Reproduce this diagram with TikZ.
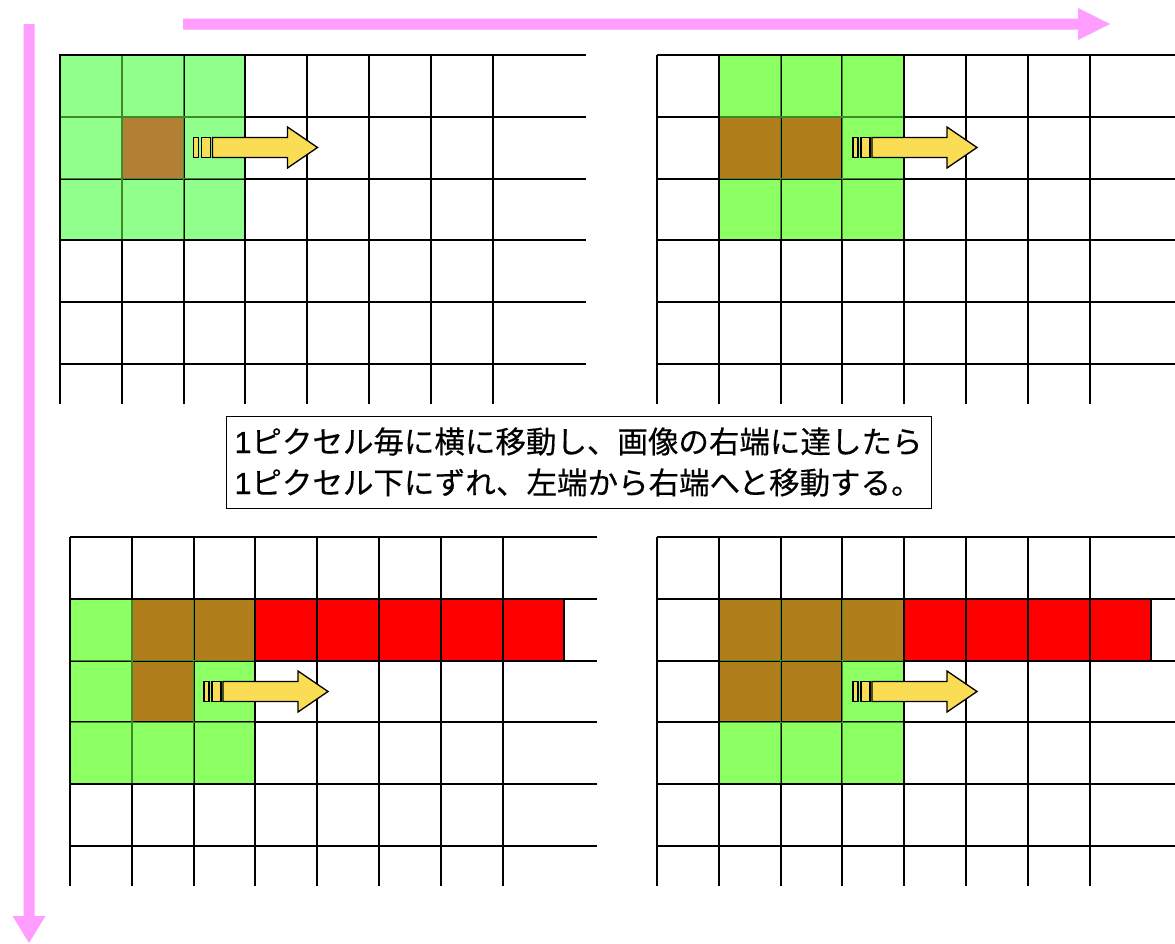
\documentclass[tikz,border=0pt]{standalone}
\usepackage{fontspec}
\newfontfamily\jpfont[FakeBold=0.4]{Noto Sans CJK JP}
\newfontfamily\latsans[FakeBold=0.4]{Liberation Sans}
\definecolor{pinkarr}{RGB}{255,158,255}
\definecolor{greenA}{RGB}{144,255,140}
\definecolor{brownA}{RGB}{178,128,52}
\definecolor{greenB}{RGB}{140,255,98}
\definecolor{brownB}{RGB}{176,126,26}
\definecolor{cellred}{RGB}{255,0,0}
\definecolor{innergreen}{RGB}{62,140,40}
\definecolor{arrowyellow}{RGB}{250,221,85}
\tikzset{
  gridline/.style={line width=2pt,black},
  innerline/.style={line width=1.6pt,innergreen},
  yarr/.style={draw=black,line width=1.3pt,fill=arrowyellow,line join=miter},
  pinkfill/.style={fill=pinkarr},
  msgbox/.style={draw=black,line width=1pt,fill=white,align=left,inner sep=0pt,
    minimum width=705pt,minimum height=92pt,font=\jpfont\fontsize{30.5}{41}\selectfont}
}
\newcommand\pcell[5]{\fill[#1] ({#2+#4*61.8},{#3+#5*61.8}) rectangle ++(61.8,61.8);}
\newcommand\pgrid[3]{%
  \foreach \i in {0,...,7}{\draw[gridline] ({#1+\i*61.8},#2) -- ({#1+\i*61.8},{#2+349});}
  \foreach \j in {0,...,5}{\draw[gridline] (#1,{#2+\j*61.8}) -- (#3,{#2+\j*61.8});}
}
\newcommand\pinner[4]{%
  \foreach \k in {1,2}{
    \draw[innerline] ({#1+(#3+\k)*61.8},{#2+#4*61.8}) -- ++(0,{3*61.8});
    \draw[innerline] ({#1+#3*61.8},{#2+(#4+\k)*61.8}) -- ++({3*61.8},0);
  }
  \draw[gridline] ({#1+#3*61.8},{#2+#4*61.8}) rectangle ++({3*61.8},{3*61.8});
}
\newcommand\yarrow[2]{%
  \draw[yarr] ({#1},{#2-10}) rectangle ({#1+5},{#2+10});
  \draw[yarr] ({#1+8},{#2-10}) rectangle ({#1+17},{#2+10});
  \draw[yarr] ({#1+19},{#2-10}) -- ({#1+94},{#2-10}) -- ({#1+94},{#2-20.5}) -- ({#1+124},{#2})
     -- ({#1+94},{#2+20.5}) -- ({#1+94},{#2+10}) -- ({#1+19},{#2+10}) -- cycle;
}
\begin{document}
\begin{tikzpicture}[x=1pt,y=-1pt]
\useasboundingbox (0,0) rectangle (1175,943);
\fill[white] (0,0) rectangle (1175,943);
% ---------- top-left panel
\foreach \c/\r in {0/0,1/0,2/0,0/1,2/1,0/2,1/2,2/2}{\pcell{greenA}{60}{55}{\c}{\r}}
\pcell{brownA}{60}{55}{1}{1}
\pgrid{60}{55}{586}
\pinner{60}{55}{0}{0}
% ---------- top-right panel
\foreach \c/\r in {1/0,2/0,3/0,3/1,1/2,2/2,3/2}{\pcell{greenB}{657}{55}{\c}{\r}}
\foreach \c/\r in {1/1,2/1}{\pcell{brownB}{657}{55}{\c}{\r}}
\pgrid{657}{55}{1175}
\pinner{657}{55}{1}{0}
% ---------- bottom-left panel
\foreach \c/\r in {0/1,0/2,2/2,0/3,1/3,2/3}{\pcell{greenB}{70}{537}{\c}{\r}}
\foreach \c/\r in {1/1,2/1,1/2}{\pcell{brownB}{70}{537}{\c}{\r}}
\foreach \c in {3,...,7}{\pcell{cellred}{70}{537}{\c}{1}}
\pgrid{70}{537}{597}
\pinner{70}{537}{0}{1}
\draw[gridline] ({70+8*61.8},{537+61.8}) -- ++(0,61.8);
% ---------- bottom-right panel
\foreach \c/\r in {3/2,1/3,2/3,3/3}{\pcell{greenB}{657}{537}{\c}{\r}}
\foreach \c/\r in {1/1,2/1,3/1,1/2,2/2}{\pcell{brownB}{657}{537}{\c}{\r}}
\foreach \c in {4,...,7}{\pcell{cellred}{657}{537}{\c}{1}}
\pgrid{657}{537}{1175}
\pinner{657}{537}{1}{1}
\draw[gridline] ({657+8*61.8},{537+61.8}) -- ++(0,61.8);
% ---------- yellow arrows
\yarrow{193.5}{147.5}
\yarrow{853}{147.5}
\yarrow{204}{691.5}
\yarrow{853}{691.5}
% ---------- pink direction arrows
\coordinate (hstart) at (183,24);
\coordinate (hend) at (1110,24);
\coordinate (vstart) at (29,24);
\coordinate (vend) at (29,943);
\fill[pinkfill] (183,18.5) -- (1078,18.5) -- (1078,8) -- (hend) -- (1078,40) -- (1078,29.5) -- (183,29.5) -- cycle;
\fill[pinkfill] (23.5,24) -- (23.5,916) -- (12.5,916) -- (vend) -- (45.5,916) -- (34.5,916) -- (34.5,24) -- cycle;
% ---------- message
\node[msgbox] (msg) at (578.5,462) {{\latsans 1}ピクセル毎に横に移動し、画像の右端に達したら\\{\latsans 1}ピクセル下にずれ、左端から右端へと移動する。};
\end{tikzpicture}
\end{document}
